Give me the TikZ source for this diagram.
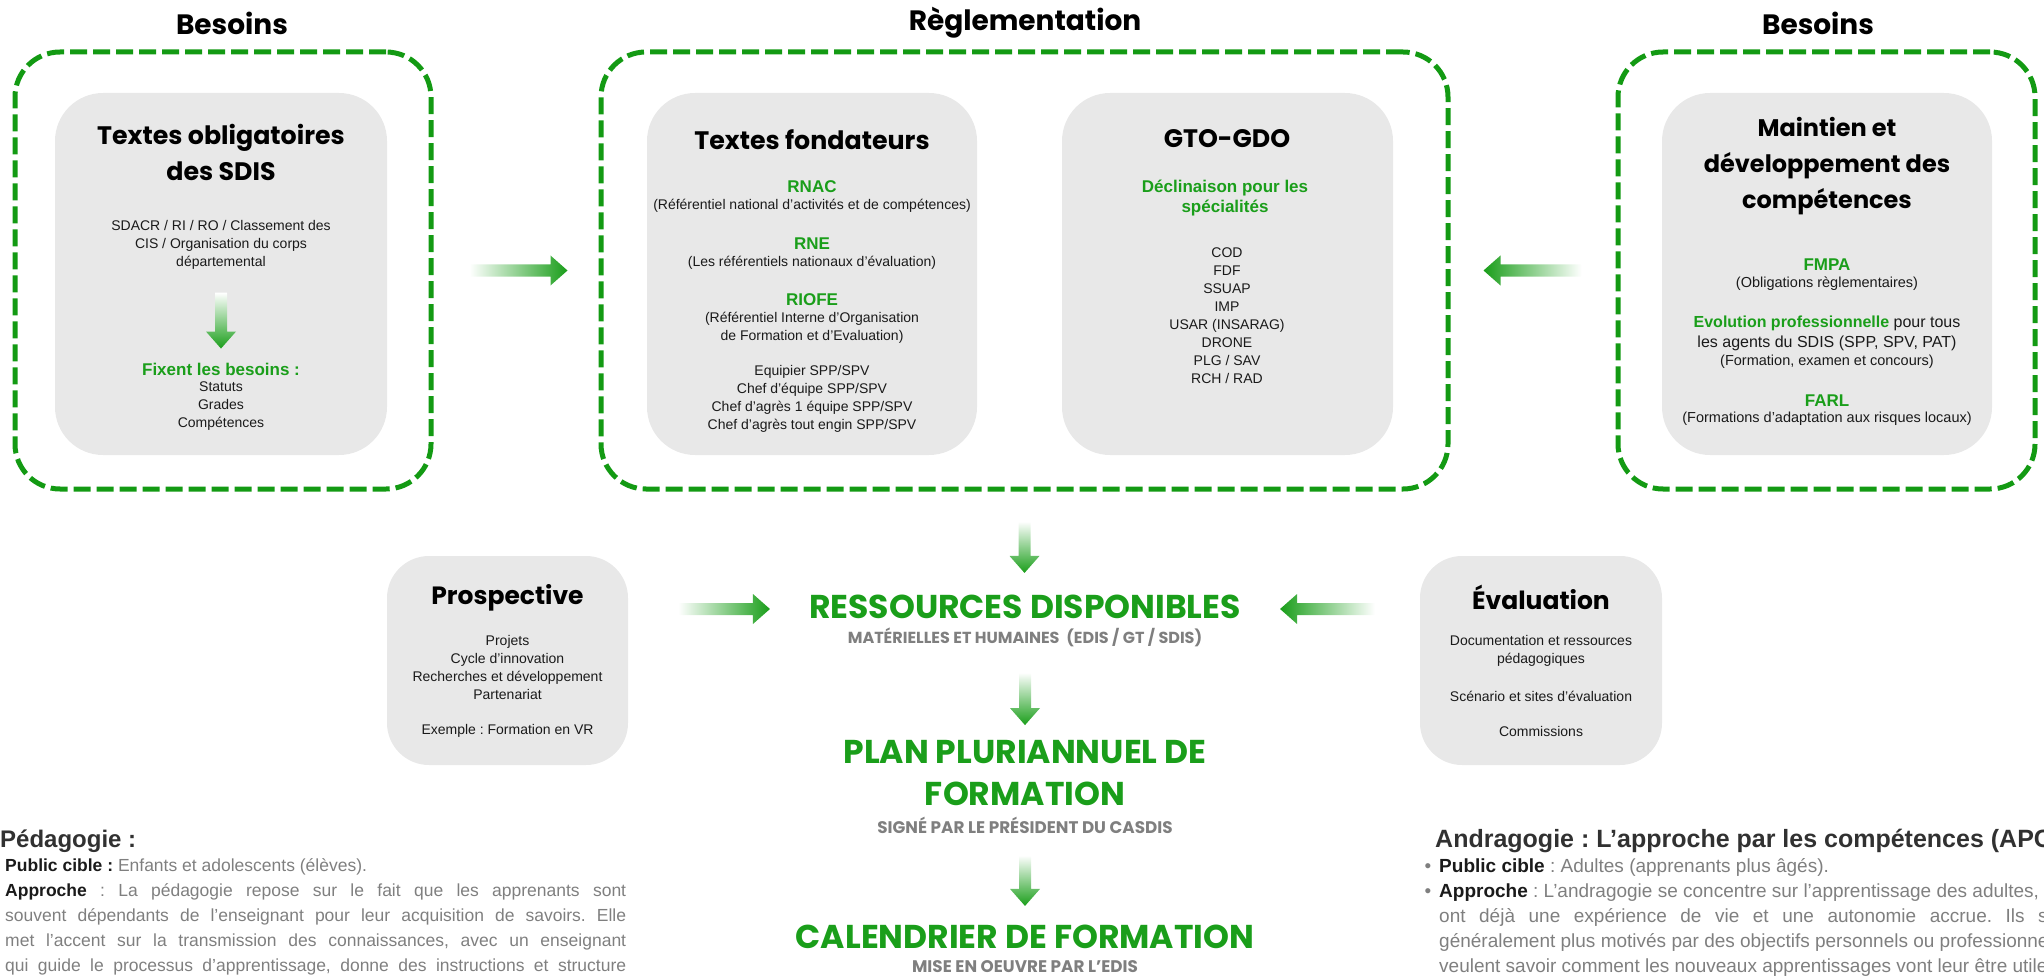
\documentclass[tikz,border=0pt]{standalone}
\usepackage{fontspec}
\setmainfont{Liberation Sans}
\newfontfamily\headfont{Poppins}
\frenchspacing
\usetikzlibrary{calc, positioning}
\definecolor{cgreen}{HTML}{1A9E1A}
\definecolor{cdash}{HTML}{139A13}
\definecolor{cpanel}{HTML}{E8E8E8}
\definecolor{csub}{HTML}{7F7F7F}
\definecolor{ctext}{HTML}{1A1A1A}
\tikzset{
  dashframe/.style={draw=cdash, line width=5pt, dash pattern=on 17pt off 6pt, rounded corners=45pt, inner sep=0pt},
  panel/.style={fill=cpanel, rounded corners=48pt, inner sep=0pt},
  frametitle/.style={font=\headfont\bfseries\fontsize{28}{34}\selectfont, inner sep=0pt},
  paneltitle/.style={font=\headfont\bfseries\fontsize{25.3}{36}\selectfont, align=center, inner sep=0pt},
  body/.style={font=\fontsize{14}{18}\selectfont, text=ctext, align=center, inner sep=0pt},
  note/.style={font=\fontsize{14.5}{18}\selectfont, text=ctext, align=center, inner sep=0pt},
  keyword/.style={font=\bfseries\fontsize{17}{20}\selectfont, text=cgreen, align=center, inner sep=0pt},
  stage/.style={font=\headfont\bfseries\fontsize{33}{42}\selectfont, text=cgreen, align=center, inner sep=0pt},
  stagenote/.style={font=\headfont\bfseries\fontsize{16.8}{20}\selectfont, text=csub, inner sep=0pt},
  para/.style={font=\fontsize{17.5}{25}\selectfont, text=csub, align=left, inner sep=0pt, anchor=west},
  parahead/.style={font=\bfseries\fontsize{24}{28}\selectfont, text=ctext!90, inner sep=0pt, anchor=west},
}
% gradient arrows: tail fades to white, head in full green
\newcommand{\flowright}[2]{\shade[left color=white, right color=cgreen] let \p1=#1, \p2=#2 in
  (\x1,\y1+6pt) -- (\x2-17pt,\y1+6pt) -- (\x2-17pt,\y1+15pt) -- (\x2,\y1) -- (\x2-17pt,\y1-15pt) -- (\x2-17pt,\y1-6pt) -- (\x1,\y1-6pt) -- cycle;}
\newcommand{\flowleft}[2]{\shade[right color=white, left color=cgreen] let \p1=#1, \p2=#2 in
  (\x1,\y1+6pt) -- (\x2+17pt,\y1+6pt) -- (\x2+17pt,\y1+15pt) -- (\x2,\y1) -- (\x2+17pt,\y1-15pt) -- (\x2+17pt,\y1-6pt) -- (\x1,\y1-6pt) -- cycle;}
\newcommand{\flowdown}[2]{\shade[top color=white, bottom color=cgreen] let \p1=#1, \p2=#2 in
  (\x1-6pt,\y1) -- (\x1-6pt,\y2+17pt) -- (\x1-15pt,\y2+17pt) -- (\x1,\y2) -- (\x1+15pt,\y2+17pt) -- (\x1+6pt,\y2+17pt) -- (\x1+6pt,\y1) -- cycle;}

\begin{document}
\begin{tikzpicture}[x=1pt, y=-1pt]
  \useasboundingbox (0,0) rectangle (2044,976);
  \clip (0,0) rectangle (2044,976);

  % three dashed frames with their titles
  \node[dashframe, minimum width=416, minimum height=437] (frameL) at (223,270.5) {};
  \node[dashframe, minimum width=847, minimum height=437] (frameM) at (1024.5,270.5) {};
  \node[dashframe, minimum width=417, minimum height=437] (frameR) at (1826.5,270.5) {};
  \node[frametitle] (titleL) at (232,23) {Besoins};
  \node[frametitle] (titleM) at (1025,23) {Règlementation};
  \node[frametitle] (titleR) at (1818,23) {Besoins};

  % left panel
  \node[panel, minimum width=332, minimum height=362] (panelL) at (221,274) {};
  \node[paneltitle] (obligT) at (221,152.5) {Textes obligatoires\\des SDIS};
  \node[body] (oblig) at (221,245) {SDACR / RI / RO / Classement des\\CIS / Organisation du corps\\départemental};
  \node[keyword] (fixent) at (221,369) {Fixent les besoins :};
  \node[body] (needs) at (221,406) {Statuts\\Grades\\Compétences};
  \flowdown{($(oblig.south)+(0,23)$)}{($(fixent.north)+(0,-14)$)}

  % middle frame: founding texts
  \node[panel, minimum width=330, minimum height=362] (panelF) at (812,274) {};
  \node[paneltitle] (fondT) at (812,140) {Textes fondateurs};
  \node[keyword] (rnac) at (812,187) {RNAC};
  \node[body] at (812,206) {(Référentiel national d'activités et de compétences)};
  \node[keyword] (rne) at (812,244) {RNE};
  \node[body] at (812,263) {(Les référentiels nationaux d’évaluation)};
  \node[keyword] (riofe) at (812,300) {RIOFE};
  \node[body] at (812,327.5) {(Référentiel Interne d’Organisation\\de Formation et d’Evaluation)};
  \node[body] (grades) at (812,399) {Equipier SPP/SPV\\Chef d’équipe SPP/SPV\\Chef d’agrès 1 équipe SPP/SPV\\Chef d’agrès tout engin SPP/SPV};

  % middle frame: GTO-GDO
  \node[panel, minimum width=331, minimum height=362] (panelG) at (1227.5,274) {};
  \node[paneltitle] (gtoT) at (1227,139) {GTO-GDO};
  \node[keyword] (decl) at (1225,198) {Déclinaison pour les\\spécialités};
  \node[body] (spec) at (1227,315.5) {COD\\FDF\\SSUAP\\IMP\\USAR (INSARAG)\\DRONE\\PLG / SAV\\RCH / RAD};

  % right panel
  \node[panel, minimum width=330, minimum height=362] (panelR) at (1827,274) {};
  \node[paneltitle, font=\headfont\bfseries\fontsize{24}{36}\selectfont] (maintT) at (1827,166) {Maintien et\\développement des\\compétences};
  \node[keyword] (fmpa) at (1827,265) {FMPA};
  \node[note] at (1827,284) {(Obligations règlementaires)};
  \node[body, font=\fontsize{16}{20}\selectfont] (evol) at (1827,333) {\textcolor{cgreen}{\bfseries Evolution professionnelle} pour tous\\les agents du SDIS (SPP, SPV, PAT)};
  \node[note] at (1827,362) {(Formation, examen et concours)};
  \node[keyword] (farl) at (1827,401) {FARL};
  \node[note] at (1827,419) {(Formations d'adaptation aux risques locaux)};

  \flowright{($(frameL.east)+(36,0)$)}{($(frameM.west)+(-31,0)$)}
  \flowleft{($(frameR.west)+(-34,0)$)}{($(frameM.east)+(33,0)$)}

  % central chain
  \node[stage] (res) at (1025,607) {RESSOURCES DISPONIBLES};
  \node[stagenote, font=\headfont\bfseries\fontsize{16}{20}\selectfont] (ressub) at (1025,637) {MATÉRIELLES ET HUMAINES~~(EDIS / GT / SDIS)};
  \node[stage] (plan) at (1025,773) {PLAN PLURIANNUEL DE\\FORMATION};
  \node[stagenote] (signe) at (1025,825) {SIGNÉ PAR LE PRÉSIDENT DU CASDIS};
  \node[stage] (cal) at (1025,937) {CALENDRIER DE FORMATION};
  \node[stagenote] (mise) at (1025,967) {MISE EN OEUVRE PAR L’EDIS};
  \flowdown{($(frameM.south)+(0,30)$)}{($(res.north)+(0,-22)$)}
  \flowdown{($(ressub.south)+(0,26)$)}{($(plan.north)+(0,-15)$)}
  \flowdown{($(signe.south)+(0,22)$)}{($(cal.north)+(0,-19)$)}

  % side panels
  \node[panel, minimum width=241, minimum height=209, rounded corners=42pt] (prosp) at (507.5,660.5) {};
  \node[paneltitle, font=\headfont\bfseries\fontsize{25}{30}\selectfont] at (507.5,598) {Prospective};
  \node[body] at (507.5,667.5) {Projets\\Cycle d’innovation\\Recherches et développement\\Partenariat};
  \node[body] at (507.5,731) {Exemple : Formation en VR};
  \node[panel, minimum width=242, minimum height=209, rounded corners=42pt] (evalb) at (1541,660.5) {};
  \node[paneltitle, font=\headfont\bfseries\fontsize{25}{30}\selectfont] at (1541,597) {Évaluation};
  \node[body] at (1541,650.5) {Documentation et ressources\\pédagogiques};
  \node[body] at (1541,696) {Scénario et sites d’évaluation};
  \node[body] at (1541,731) {Commissions};
  \flowright{($(prosp.east |- res.west)+(50,2)$)}{($(res.west)+(-39,0)$)}
  \flowleft{($(evalb.west |- res.east)+(-45,2)$)}{($(res.east)+(39,0)$)}

  % pedagogy notes
  \node[parahead] (pedaT) at (0,841) {Pédagogie :};
  \node[para] (peda) at (5,917) {%
    \textcolor{ctext}{\bfseries Public cible :} Enfants et adolescents (élèves).\\
    \makebox[621pt][s]{\textcolor{ctext}{\bfseries Approche} : La pédagogie repose sur le fait que les apprenants sont}\\
    \makebox[621pt][s]{souvent dépendants de l'enseignant pour leur acquisition de savoirs. Elle}\\
    \makebox[621pt][s]{met l'accent sur la transmission des connaissances, avec un enseignant}\\
    \makebox[621pt][s]{qui guide le processus d'apprentissage, donne des instructions et structure}};
  \node[parahead, font=\bfseries\fontsize{25}{28}\selectfont] (andraT) at (1435,841) {Andragogie : L’approche par les compétences (APC)};
  \node[para, font=\fontsize{19}{25}\selectfont] (andra) at (1439,917) {%
    \llap{\textbullet\hspace{8pt}}\textcolor{ctext}{\bfseries Public cible} : Adultes (apprenants plus âgés).\\
    \llap{\textbullet\hspace{8pt}}\textcolor{ctext}{\bfseries Approche} : L'andragogie se concentre sur l'apprentissage des adultes, qui\\
    \makebox[635pt][s]{ont déjà une expérience de vie et une autonomie accrue. Ils sont}\\
    généralement plus motivés par des objectifs personnels ou professionnels et\\
    veulent savoir comment les nouveaux apprentissages vont leur être utiles.};
\end{tikzpicture}
\end{document}
